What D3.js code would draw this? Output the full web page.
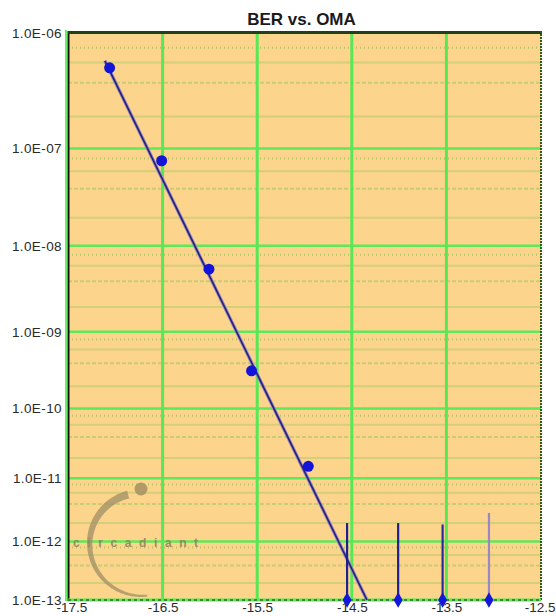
<!DOCTYPE html>
<html>
<head>
<meta charset="utf-8">
<script src="https://cdn.jsdelivr.net/npm/d3@7/dist/d3.min.js"></script>
<style>
  html, body { margin: 0; padding: 0; background: #ffffff; }
  svg { display: block; }
  text { font-family: "Liberation Sans", Arial, sans-serif; }
</style>
</head>
<body>
<svg id="chart" width="556" height="616"></svg>
<script>
// ---- data -------------------------------------------------------------
const chartTitle = "BER vs. OMA";

// x axis (OMA, dBm)
const xDomain = [-17.5, -12.5];
const xTickValues = [-17.5, -16.5, -15.5, -14.5, -13.5, -12.5];
const xTickLabels = ["-17.5", "-16.5", "-15.5", "-14.5", "-13.5", "-12.5"];

// y axis: decades of BER, drawn on a log(-log10 BER) scale
const yDecades = [6, 7, 8, 9, 10, 11, 12, 13];
const yTickLabels = ["1.0E-06", "1.0E-07", "1.0E-08", "1.0E-09", "1.0E-10", "1.0E-11", "1.0E-12", "1.0E-13"];
const minorMultipliers = [2, 4, 6, 8];

// measured points with errors
const measOMA = [-17.06, -16.51, -16.01, -15.56, -14.96];
const measBER = [5.4e-7, 7.6e-8, 5.5e-9, 3.2e-10, 1.5e-11];

// error-free runs: plotted on the floor, with an upper confidence bound
const zeroOMA = [-14.55, -14.01, -13.54, -13.05];
const zeroUpperBER = [2.0e-12, 2.0e-12, 1.9e-12, 2.9e-12];
const floorBER = 1e-13;

// straight-line fit (straight on the log(-log) scale)
const fitOMA = [-17.11, -14.34];
const fitBER = [6.2e-7, 1e-13];

// ---- layout -----------------------------------------------------------
const svg = d3.select("#chart");
const plotL = 68, plotR = 541, plotT = 36, plotB = 600;

const x = d3.scaleLinear().domain(xDomain).range([plotL, plotR]);
const q = d3.scaleLog().domain([6, 13]).range([plotT, plotB]);
const y = ber => q(-Math.log10(ber));

// plot background
svg.append("rect")
  .attr("x", plotL).attr("y", plotT - 4)
  .attr("width", plotR - plotL).attr("height", plotB - plotT + 4)
  .attr("fill", "#fcd48c");

// minor horizontal grid (2,4,6,8 x 10^-k)
const minorVals = [];
for (let k = 7; k <= 13; k++) {
  minorMultipliers.forEach(m => minorVals.push({ m, v: m * Math.pow(10, -k) }));
}
const minorDash = { 2: null, 4: "4,2", 6: null, 8: "1,3" };
svg.append("g").selectAll("line")
  .data(minorVals)
  .join("line")
  .attr("x1", plotL).attr("x2", plotR)
  .attr("y1", d => y(d.v)).attr("y2", d => y(d.v))
  .attr("stroke", d => d.m === 8 ? "#9fbf5a" : "#b9cc6a")
  .attr("stroke-width", 2)
  .attr("stroke-opacity", d => d.m === 2 || d.m === 6 ? 0.6 : 0.8)
  .attr("stroke-dasharray", d => minorDash[d.m]);

// major grid
svg.append("g").selectAll("line")
  .data(yDecades.slice(1, -1))
  .join("line")
  .attr("x1", plotL).attr("x2", plotR)
  .attr("y1", d => q(d)).attr("y2", d => q(d))
  .attr("stroke", "#5fe85a").attr("stroke-width", 2.5);

svg.append("g").selectAll("line")
  .data(xTickValues.slice(1, -1))
  .join("line")
  .attr("x1", d => x(d)).attr("x2", d => x(d))
  .attr("y1", plotT - 4).attr("y2", plotB)
  .attr("stroke", "#58e855").attr("stroke-width", 3);

// watermark logo
const logo = svg.append("g").attr("opacity", 0.8);
const cx = 141, cy = 543, rOut = 54;
const arcPts = [];
const a0 = -0.26, a1 = -Math.PI - 0.12, steps = 60;
for (let i = 0; i <= steps; i++) {
  const t = a0 + (a1 - a0) * i / steps;
  arcPts.push([cx + rOut * Math.sin(t), cy - rOut * Math.cos(t), 8 - 6 * i / steps]);
}
const outer = arcPts.map(p => [p[0], p[1]]);
const inner = arcPts.map(p => {
  const dx = p[0] - cx, dy = p[1] - cy, r = Math.hypot(dx, dy);
  return [cx + dx * (r - p[2]) / r, cy + dy * (r - p[2]) / r];
}).reverse();
logo.append("path")
  .attr("d", d3.line()(outer.concat(inner)) + "Z")
  .attr("fill", "#a59468");
logo.append("circle")
  .attr("cx", cx).attr("cy", cy - rOut).attr("r", 6.5)
  .attr("fill", "#a08e60");
logo.append("text")
  .attr("x", 73).attr("y", 547)
  .attr("font-size", 12).attr("font-family", "DejaVu Serif, serif")
  .attr("font-weight", "bold")
  .attr("letter-spacing", 7.6)
  .attr("fill", "#8a7a58")
  .text("circadiant");

// frame
svg.append("line").attr("x1", plotL - 2).attr("x2", plotL - 2)
  .attr("y1", plotT - 6).attr("y2", plotB + 1)
  .attr("stroke", "#66f060").attr("stroke-width", 2);
svg.append("line").attr("x1", plotL + 0.5).attr("x2", plotL + 0.5)
  .attr("y1", plotT - 5).attr("y2", plotB + 1)
  .attr("stroke", "#111").attr("stroke-width", 2);
svg.append("line").attr("x1", plotL).attr("x2", plotR + 1)
  .attr("y1", plotT - 3.5).attr("y2", plotT - 3.5)
  .attr("stroke", "#23401a").attr("stroke-width", 3);
svg.append("line").attr("x1", plotR).attr("x2", plotR)
  .attr("y1", plotT - 5).attr("y2", plotB)
  .attr("stroke", "#2c5a22").attr("stroke-width", 2)
  .attr("stroke-dasharray", "2,1");
svg.append("line").attr("x1", plotL).attr("x2", plotR)
  .attr("y1", plotB).attr("y2", plotB)
  .attr("stroke", "#5be855").attr("stroke-width", 3);
svg.append("line").attr("x1", plotL).attr("x2", plotR)
  .attr("y1", plotB).attr("y2", plotB)
  .attr("stroke", "#2e6a26").attr("stroke-width", 1.5)
  .attr("stroke-dasharray", "3,3");

// fit line
const fitPts = fitOMA.map((v, i) => [x(v), y(fitBER[i])]);
svg.append("path").attr("d", d3.line()(fitPts))
  .attr("stroke", "#9a84cc").attr("stroke-width", 3.4).attr("fill", "none");
svg.append("path").attr("d", d3.line()(fitPts))
  .attr("stroke", "#22226e").attr("stroke-width", 1.6).attr("fill", "none");

// upper bounds for error-free runs
const barColors = ["#1c2090", "#1c2090", "#2a2a98", "#9a86c8"];
svg.append("g").selectAll("line")
  .data(zeroOMA)
  .join("line")
  .attr("x1", d => x(d)).attr("x2", d => x(d))
  .attr("y1", y(floorBER)).attr("y2", (d, i) => y(zeroUpperBER[i]))
  .attr("stroke", (d, i) => barColors[i]).attr("stroke-width", 2.2);

svg.append("g").selectAll("path")
  .data(zeroOMA)
  .join("path")
  .attr("transform", d => `translate(${x(d)},${y(floorBER)})`)
  .attr("d", d3.symbol(d3.symbolDiamond, 70)())
  .attr("fill", "#1418d8");

// measured points
svg.append("g").selectAll("circle")
  .data(measOMA)
  .join("circle")
  .attr("cx", d => x(d)).attr("cy", (d, i) => y(measBER[i]))
  .attr("r", 5.5)
  .attr("fill", "#1414d8");

// axes
const yAxis = d3.axisLeft(q)
  .tickValues(yDecades)
  .tickFormat((d, i) => yTickLabels[i])
  .tickSize(0).tickPadding(6);
const gy = svg.append("g").attr("transform", `translate(${plotL},0)`).call(yAxis);
gy.select(".domain").remove();
gy.selectAll("text")
  .attr("font-size", 13.5).attr("fill", "#2a2a2a")
  .attr("font-family", "Liberation Sans, Arial, sans-serif")
  .attr("letter-spacing", 0.4);
// top label sits on the frame line
gy.selectAll(".tick").filter(d => d === 6).select("text").attr("dy", "0.1em");

const xAxis = d3.axisBottom(x)
  .tickValues(xTickValues)
  .tickFormat((d, i) => xTickLabels[i])
  .tickSize(0).tickPadding(2);
const gx = svg.append("g").attr("transform", `translate(0,${plotB})`).call(xAxis);
gx.select(".domain").remove();
gx.selectAll("text")
  .attr("font-size", 13.5).attr("fill", "#2a2a2a")
  .attr("font-family", "Liberation Sans, Arial, sans-serif");
gx.selectAll(".tick").filter(d => d === -17.5).select("text").attr("dx", "0.25em");
gx.selectAll(".tick").filter(d => d === -12.5).select("text").attr("dx", "-0.1em");

// title
svg.append("text")
  .attr("x", (plotL + plotR) / 2 - 3).attr("y", 25)
  .attr("text-anchor", "middle")
  .attr("font-size", 17).attr("font-weight", "bold")
  .attr("fill", "#1a1a1a")
  .text(chartTitle);
</script>
</body>
</html>
